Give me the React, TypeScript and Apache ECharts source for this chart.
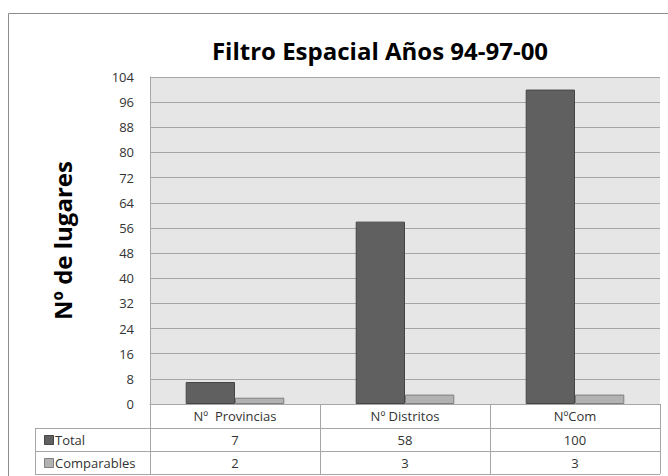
import React, { useEffect, useRef } from "react";
import * as echarts from "echarts";

const categories = ["Nº  Provincias", "Nº Distritos", "NºCom"];
const seriesNames = ["Total", "Comparables"];
const totalValues = [7, 58, 100];
const comparableValues = [2, 3, 3];
const titleText = "Filtro Espacial Años 94-97-00";
const yAxisTitle = "Nº de lugares";

const W = 668;
const H = 476;
const GL = 150;
const GR = 660;
const GT = 77;
const GB = 404;
const HEADER = 24;
const ROW = 23;
const TABLE_LEFT = 35;
const FONT = "'Open Sans', sans-serif";
const colors = ["#606060", "#b2b2b2"];
const borders = ["#454545", "#7f7f7f"];

export default function App() {
  const ref = useRef<HTMLDivElement>(null);
  useEffect(() => {
    if (!ref.current) return;
    const chart = echarts.init(ref.current, null, { renderer: "svg" });
    const cw = (GR - GL) / categories.length;
    const rowsData = [totalValues, comparableValues];
    const graphic: any[] = [];
    graphic.push({
      type: "rect",
      shape: { x: 8.5, y: 13.5, width: 720, height: 520 },
      style: { fill: "none", stroke: "#8c8c8c", lineWidth: 1 },
      silent: true,
      z: -1,
    });
    const headerBottom = GB + HEADER;
    for (let r = 0; r <= rowsData.length; r++) {
      const y = headerBottom + r * ROW + 0.5;
      graphic.push({
        type: "line",
        shape: { x1: TABLE_LEFT, y1: y, x2: GR, y2: y },
        style: { stroke: "#a6a6a6", lineWidth: 1 },
        silent: true,
      });
    }
    const vx = [TABLE_LEFT];
    for (let i = 0; i <= categories.length; i++) vx.push(GL + i * cw);
    vx.forEach((x) => {
      graphic.push({
        type: "line",
        shape: { x1: x + 0.5, y1: headerBottom, x2: x + 0.5, y2: headerBottom + rowsData.length * ROW },
        style: { stroke: "#a6a6a6", lineWidth: 1 },
        silent: true,
      });
    });
    rowsData.forEach((vals, r) => {
      const cy = headerBottom + r * ROW + ROW / 2 + 0.5;
      graphic.push({
        type: "rect",
        shape: { x: 44.5, y: cy - 4.5, width: 9, height: 9 },
        style: { fill: colors[r], stroke: borders[r], lineWidth: 1 },
        silent: true,
      });
      graphic.push({
        type: "text",
        x: 55,
        y: cy,
        style: {
          text: seriesNames[r],
          font: `13px ${FONT}`,
          fill: "#333",
          verticalAlign: "middle",
          align: "left",
        },
        silent: true,
      });
      vals.forEach((v, i) => {
        graphic.push({
          type: "text",
          x: GL + (i + 0.5) * cw,
          y: cy,
          style: {
            text: String(v),
            font: `13px ${FONT}`,
            fill: "#333",
            verticalAlign: "middle",
            align: "center",
          },
          silent: true,
        });
      });
    });

    chart.setOption({
      animation: false,
      backgroundColor: "#ffffff",
      title: {
        text: titleText,
        left: 375,
        textAlign: "center",
        top: 33,
        textStyle: { fontFamily: FONT, fontWeight: "bold", fontSize: 24, color: "#000" },
      },
      grid: {
        left: GL,
        right: W - GR,
        top: GT,
        bottom: H - GB,
        show: true,
        backgroundColor: "#e6e6e6",
        borderWidth: 0,
        containLabel: false,
      },
      xAxis: {
        type: "category",
        data: categories,
        axisLine: { show: true, lineStyle: { color: "#a6a6a6" } },
        axisTick: { show: true, length: HEADER, lineStyle: { color: "#a6a6a6" }, interval: 0 },
        axisLabel: { fontFamily: FONT, fontSize: 13, color: "#333", margin: 5, interval: 0 },
      },
      yAxis: {
        type: "value",
        min: 0,
        max: 104,
        interval: 8,
        name: yAxisTitle,
        nameLocation: "middle",
        nameGap: 76,
        nameRotate: 90,
        nameTextStyle: { fontFamily: FONT, fontWeight: "bold", fontSize: 24, color: "#000" },
        axisLine: { show: true, lineStyle: { color: "#a6a6a6" } },
        axisTick: { show: false },
        axisLabel: { fontFamily: FONT, fontSize: 13, color: "#333", margin: 16 },
        splitLine: { show: true, lineStyle: { color: "#a6a6a6", width: 1 } },
      },
      series: [
        {
          name: seriesNames[0],
          type: "bar",
          data: totalValues,
          barGap: "0%",
          barCategoryGap: "42%",
          itemStyle: { color: colors[0], borderColor: borders[0], borderWidth: 1 },
        },
        {
          name: seriesNames[1],
          type: "bar",
          data: comparableValues,
          itemStyle: { color: colors[1], borderColor: borders[1], borderWidth: 1 },
        },
      ],
      graphic,
    });
    return () => chart.dispose();
  }, []);
  return (
    <div
      ref={ref}
      style={{ position: "absolute", left: 0, top: 0, width: W, height: H }}
    />
  );
}
